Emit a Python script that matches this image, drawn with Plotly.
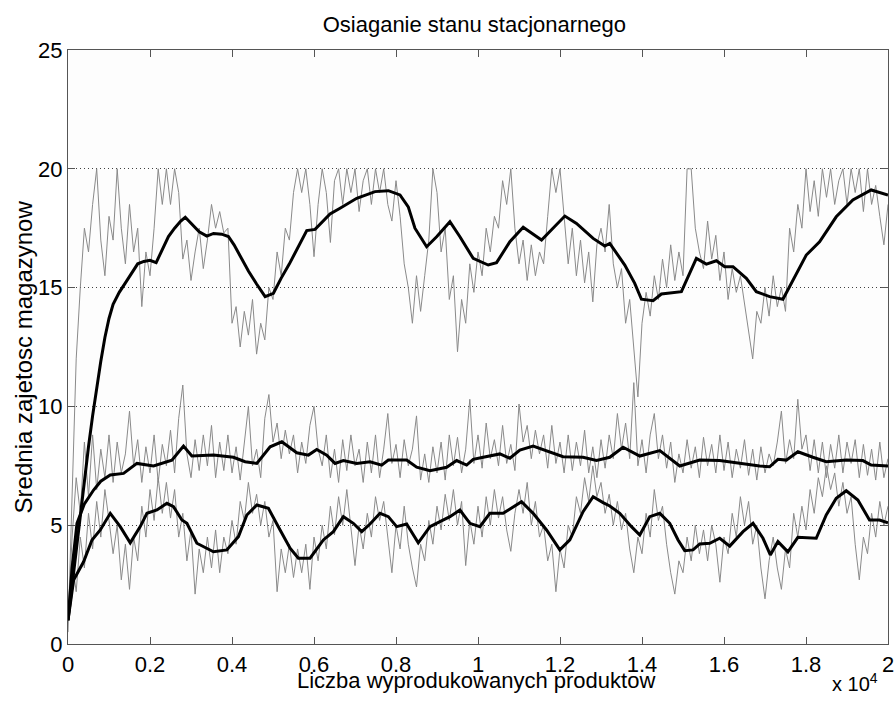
import plotly.graph_objects as go

# ---------------- data ----------------
X_TICK_VALS = [0, 2000, 4000, 6000, 8000, 10000, 12000, 14000, 16000, 18000, 20000]
X_TICK_TEXT = ["0", "0.2", "0.4", "0.6", "0.8", "1", "1.2", "1.4", "1.6", "1.8", "2"]
Y_TICK_VALS = [0, 5, 10, 15, 20, 25]

GRAY_STEP = 100
GRAY_X = list(range(0, 20001, GRAY_STEP))

# raw (gray) series: upper store
gray_upper = [
    0.5, 6, 12, 15, 17.5, 16.5, 18.5, 20, 17, 15.5,
    18, 17, 20, 17.5, 16, 18.5, 16.5, 17.5, 14.2, 16.5,
    15.5, 17.5, 20, 18.5, 20, 18.5, 20, 19, 16.2, 17,
    15.3, 16.5, 17.5, 15.8, 17, 18.5, 17.5, 18.2, 17.3, 17.5,
    13.5, 14.2, 12.5, 14, 13, 14.5, 12.2, 13.5, 12.8, 15,
    14.5, 16.5, 15.5, 17.5, 17, 19, 20, 19, 20, 18.5,
    16.3, 18.5, 20, 19, 16.9, 19.5, 20, 18.5, 20, 19,
    20, 18.2, 19.5, 20, 18.5, 20, 19, 20, 18.5, 17.8,
    19.5, 18, 16, 15, 13.5, 15.5, 14, 15.5, 17, 20,
    19, 16.5, 17.5, 14.5, 15.5, 12.3, 14.5, 13.5, 16, 14.8,
    16.5, 15.5, 17.5, 16.5, 18, 17.5, 19.5, 18.5, 20, 17.5,
    16, 17, 15.3, 16.8, 15.5, 16.5, 16, 18, 20, 19,
    20, 18, 16, 17.5, 15.5, 17, 15.2, 16.5, 14.4, 16.8,
    17.5, 16.5, 18.5, 16, 15, 15.8, 13.5, 14.5, 12.5, 10.4,
    13.5, 14.8, 13.8, 15.5, 14.5, 16.2, 15, 16.8, 15.3, 16.5,
    15.5, 20, 20, 17.5, 16.5, 15.8, 17.8, 16.2, 17.2, 15.3,
    16.5, 14.5, 15.8, 14.8, 15.5, 14.3, 13.2, 12, 14, 13.5,
    15, 13.8, 15.5, 14.2, 15, 14, 17.5, 16.5, 18.5, 17.5,
    20, 18.2, 19.5, 18, 20, 18.8, 20, 18.5, 19.5, 20,
    18.5, 20, 19, 20, 18.2, 20, 18.5, 19.3, 18, 16.8,
    18.5,
]

# raw (gray) series: middle store
gray_middle = [
    1.0, 4.5, 7, 5.5, 8.5, 6.2, 8.8, 6.5, 8.2, 7,
    8.8, 6.8, 8.5, 7.2, 8, 9.8, 7.5, 8.6, 6.8, 8.3,
    7.2, 8.8, 6.8, 8.4, 7.5, 9, 7.2, 9.5, 10.9, 8,
    7, 8.6, 7.3, 8.8, 7.5, 9.2, 7, 8.5, 7.3, 8.8,
    7.2, 8.3, 6.9, 8.5, 10, 7.5, 8.2, 7, 9.5, 10.5,
    8.5, 9.3, 7.8, 9, 8, 8.8, 7.2, 8.5, 7.6, 9.2,
    10, 8.2, 7.5, 8.8, 7, 8.2, 6.8, 8.6, 7.3, 8.8,
    7.5, 8.2, 6.8, 8.5, 7.2, 8.8, 7, 8.2, 9.7, 7.6,
    8.4, 7, 8.6, 7.5, 8.2, 9.6, 6.9, 8, 6.8, 8.3,
    7.2, 8.5, 6.9, 8.8, 7.5, 8.7, 7.2, 8.2, 10.3, 7.6,
    8.8, 7.4, 9.3, 7.8, 8.6, 7.5, 9.2, 7.6, 8.4, 7.3,
    10.1, 8.5, 9.2, 7.8, 9, 8, 8.8, 7.4, 9.2, 7.6,
    8.5, 7.2, 8.8, 7.3, 8.5, 7.5, 9, 7.2, 8.3, 7,
    8.6, 7.4, 8.8, 7.8, 9.7, 8.2, 9.3, 7.8, 11, 7.5,
    8.6, 7.2, 8.8, 9.7, 7.8, 8.8, 7.4, 8.5, 6.8, 8,
    7.2, 8.6, 7.4, 8.3, 7, 8.7, 7.5, 8.4, 7.2, 8.8,
    7.3, 8.5, 7, 8.2, 7.4, 8.6, 7.1, 8.2, 6.9, 8.3,
    7.2, 8, 7.5, 8.5, 9.8, 7.6, 8.6, 7.8, 10.3, 8.2,
    8.8, 7.3, 8.6, 7.2, 8.5, 7, 8.4, 7.4, 8.8, 7.2,
    8.5, 7.6, 8.6, 7, 8.4, 7.1, 8.2, 6.9, 8.5, 7,
    7.8,
]

# raw (gray) series: lower store
gray_lower = [
    1.0, 3.5, 2.2, 4.5, 3.2, 5.5, 4, 6, 4.5, 6.5,
    5.2, 3.8, 5, 2.7, 4.2, 2.3, 4.5, 3.5, 5.8, 4.5,
    6.5, 5.2, 7, 5.5, 6.8, 5.3, 6.5, 4.5, 5.5, 3.5,
    4.8, 2.1, 4, 3, 4.5, 3.2, 4.8, 3, 4.5, 3.8,
    5.2, 4.2, 6, 5.2, 6.8, 5.5, 6.3, 5, 6, 4.5,
    5.2, 2.2, 4, 3, 4.2, 2.8, 4, 3, 4.2, 2.3,
    4.5, 3.5, 5, 4, 5.8, 4.6, 6.2, 5, 6.5, 4.8,
    3.3, 5, 4, 5.5, 4.5, 6.2, 5.2, 6, 4.5, 3,
    5, 4, 5.8, 4.2, 3.2, 2.4, 4.2, 3.5, 5.2, 4.2,
    5.8, 4.8, 6.3, 5.2, 6.5, 5, 6, 3.3, 5.2, 4.2,
    5.8, 4.5, 6.2, 5, 6.5, 5.3, 6.2, 4.8, 3.9, 5.5,
    6.5, 5.5, 6.8, 5, 6, 4.5, 5, 3.5, 4.2, 2.2,
    4, 3.2, 5, 4.5, 6.2, 5.5, 7, 6, 7.5, 6.2,
    6.8, 5.5, 6.3, 5, 6, 4.8, 5.5, 4, 3, 4.5,
    3.8, 5.5, 4.5, 6.5, 5.2, 5.8, 4.2, 3, 2.1, 3.5,
    3, 4.5, 3.5, 5, 3.8, 4.8, 3.5, 5, 4.2, 2.6,
    4.5, 3.8, 5.5, 4.5, 6.2, 5, 6, 4.2, 5, 3.2,
    1.9, 3.5, 4.5, 3.2, 2.3, 4, 3.2, 5.5, 4.5, 5.8,
    4.8, 6.5, 5.5, 7, 6.2, 7.5, 6.5, 7.2, 5.8, 6.8,
    5.5, 6.2, 4.2, 2.7, 4.5, 3.8, 5.5, 4.5, 6, 5,
    5.8,
]

# averaged (black) series
avg_upper_x = [
    0, 100, 200, 300, 400, 500, 600, 700, 800, 900,
    1000, 1100, 1250, 1400, 1550, 1700, 1850, 2000, 2150, 2300,
    2450, 2600, 2750, 2860, 3000, 3200, 3386, 3550, 3750, 3913,
    4050, 4200, 4400, 4600, 4808, 5010, 5200, 5400, 5580, 5823,
    6026, 6200, 6391, 6635, 7042, 7488, 7813, 8097, 8299, 8462,
    8747, 8991, 9315, 9559, 9883, 10249, 10453, 10777, 11102, 11550,
    11793, 12118, 12402, 12808, 13092, 13214, 13580, 13823, 13986, 14270,
    14473, 14961, 15326, 15570, 15814, 16017, 16220, 16545, 16788, 17113,
    17437, 17681, 18006, 18331, 18737, 19143, 19590, 20000,
]
avg_upper_y = [
    1.0, 2.5, 4.0, 5.5, 7.0, 8.3, 9.6, 10.8, 11.9, 12.9,
    13.7, 14.3, 14.8, 15.2, 15.6, 16.0, 16.1, 16.15, 16.05, 16.6,
    17.15, 17.5, 17.8, 17.96, 17.7, 17.35, 17.17, 17.28, 17.25, 17.15,
    16.8, 16.3, 15.7, 15.15, 14.62, 14.76, 15.4, 16.0, 16.58, 17.4,
    17.45, 17.75, 18.1, 18.34, 18.76, 19.04, 19.08, 18.9, 18.4, 17.5,
    16.72, 17.14, 17.77, 17.14, 16.23, 15.95, 16.05, 16.93, 17.54, 17.0,
    17.42, 18.01, 17.7, 17.07, 16.75, 16.86, 15.95, 15.18, 14.51, 14.45,
    14.73, 14.83, 16.23, 15.99, 16.13, 15.88, 15.88, 15.39, 14.83, 14.62,
    14.51, 15.32, 16.37, 16.93, 17.98, 18.69, 19.11, 18.9,
]

avg_middle_x = [
    0, 100, 219, 400, 624, 800, 1031, 1355, 1681, 2086,
    2534, 2817, 3021, 3548, 4035, 4320, 4605, 4930, 5215, 5580,
    5863, 6067, 6311, 6513, 6716, 7042, 7366, 7651, 7813, 8260,
    8504, 8828, 9235, 9479, 9722, 9883, 10127, 10534, 10777, 11021,
    11345, 11672, 12076, 12563, 12890, 13214, 13538, 13946, 14434, 14921,
    15408, 15896, 16383, 16870, 17113, 17315, 17519, 17802, 18168, 18494,
    18982, 19387, 19590, 20000,
]
avg_middle_y = [
    1.0, 3.2, 5.08, 5.9, 6.48, 6.85, 7.11, 7.18, 7.6, 7.49,
    7.74, 8.33, 7.91, 7.95, 7.86, 7.67, 7.6, 8.3, 8.51, 8.05,
    7.95, 8.19, 7.95, 7.6, 7.72, 7.6, 7.67, 7.53, 7.74, 7.74,
    7.44, 7.29, 7.44, 7.72, 7.53, 7.77, 7.86, 8.0, 7.82, 8.16,
    8.33, 8.14, 7.88, 7.86, 7.72, 7.86, 8.28, 7.91, 8.14, 7.49,
    7.74, 7.72, 7.6, 7.49, 7.46, 7.77, 7.74, 8.09, 7.86, 7.67,
    7.74, 7.72, 7.53, 7.49,
]

avg_lower_x = [
    0, 137, 380, 585, 787, 1031, 1274, 1518, 1762, 1925,
    2169, 2412, 2573, 2778, 2900, 3143, 3548, 3874, 4157, 4362,
    4605, 4888, 5173, 5417, 5619, 5904, 6228, 6472, 6716, 6959,
    7164, 7366, 7610, 7813, 8016, 8260, 8543, 8828, 9072, 9315,
    9559, 9803, 10046, 10290, 10614, 10818, 11062, 11345, 11672, 11996,
    12240, 12563, 12808, 13051, 13214, 13458, 13743, 13946, 14190, 14434,
    14677, 14880, 15042, 15245, 15408, 15652, 15896, 16139, 16464, 16708,
    16951, 17130, 17315, 17558, 17802, 18250, 18494, 18737, 18982, 19265,
    19549, 19793, 20000,
]
avg_lower_y = [
    1.0, 2.69, 3.46, 4.38, 4.8, 5.5, 4.94, 4.26, 4.94, 5.5,
    5.64, 5.92, 5.78, 5.22, 5.08, 4.24, 3.88, 3.96, 4.52, 5.43,
    5.85, 5.71, 4.8, 4.03, 3.61, 3.61, 4.38, 4.73, 5.36, 5.08,
    4.73, 5.05, 5.5, 5.36, 4.94, 5.05, 4.26, 4.94, 5.15, 5.36,
    5.64, 5.08, 4.94, 5.5, 5.5, 5.71, 5.99, 5.5, 4.8, 3.96,
    4.38, 5.57, 6.2, 5.95, 5.81, 5.5, 4.94, 4.59, 5.36, 5.5,
    5.08, 4.38, 3.93, 3.96, 4.21, 4.24, 4.45, 4.12, 4.73, 5.08,
    4.45, 3.75, 4.31, 3.88, 4.49, 4.45, 5.43, 6.13, 6.45, 6.06,
    5.22, 5.22, 5.1,
]

TITLE = "Osiaganie stanu stacjonarnego"
X_LABEL = "Liczba wyprodukowanych produktow"
Y_LABEL = "Srednia zajetosc magazynow"
X_EXPONENT = "x 10<sup>4</sup>"

# ---------------- figure ----------------
FONT = "Arial, 'Liberation Sans', Helvetica, sans-serif"
GRAY = "#8a8a8a"

fig = go.Figure()
for ys in (gray_upper, gray_middle, gray_lower):
    fig.add_trace(go.Scatter(x=GRAY_X, y=ys, mode="lines",
                             line=dict(color=GRAY, width=1),
                             hoverinfo="skip", showlegend=False))
for xs, ys in ((avg_upper_x, avg_upper_y), (avg_middle_x, avg_middle_y),
               (avg_lower_x, avg_lower_y)):
    fig.add_trace(go.Scatter(x=xs, y=ys, mode="lines",
                             line=dict(color="black", width=3),
                             hoverinfo="skip", showlegend=False))

axis_common = dict(
    showline=True, linecolor="#555555", linewidth=1, mirror="ticks",
    ticks="inside", ticklen=7, tickcolor="#555555", tickwidth=1,
    zeroline=False, automargin=False,
    tickfont=dict(family=FONT, size=22, color="black"),
)

fig.update_layout(
    width=895, height=702,
    margin=dict(l=68, r=7, t=50, b=58, pad=0),
    paper_bgcolor="white", plot_bgcolor="#fdfdfd",
    font=dict(family=FONT, color="black"),
    title=dict(text=TITLE, x=0.53, xanchor="center", y=0.965, yanchor="middle",
               font=dict(family=FONT, size=22, color="black")),
    xaxis=dict(range=[0, 20000], tickvals=X_TICK_VALS, ticktext=X_TICK_TEXT,
               showgrid=False, ticklabelstandoff=1, **axis_common),
    yaxis=dict(range=[0, 25], tickvals=Y_TICK_VALS,
               showgrid=True, gridcolor="#404040", gridwidth=1, griddash="1px,3px",
               **axis_common),
)

fig.add_annotation(text=X_LABEL, xref="paper", yref="paper",
                   x=0.498, y=-0.061, xanchor="center", yanchor="middle",
                   showarrow=False, font=dict(family=FONT, size=22, color="black"))
fig.add_annotation(text=Y_LABEL, xref="paper", yref="paper", textangle=-90,
                   x=-0.0545, y=0.483, xanchor="center", yanchor="middle",
                   showarrow=False, font=dict(family=FONT, size=24, color="black"))
fig.add_annotation(text=X_EXPONENT, xref="paper", yref="paper",
                   x=0.99, y=-0.064, xanchor="right", yanchor="middle",
                   showarrow=False, font=dict(family=FONT, size=20, color="black"))

# remove the browser's default 8px body margin so the figure sits at the page origin
fig.write_html("out.html",
               config={"displayModeBar": False},
               post_script="document.body.style.margin='0';"
                           "document.body.style.overflow='hidden';")
